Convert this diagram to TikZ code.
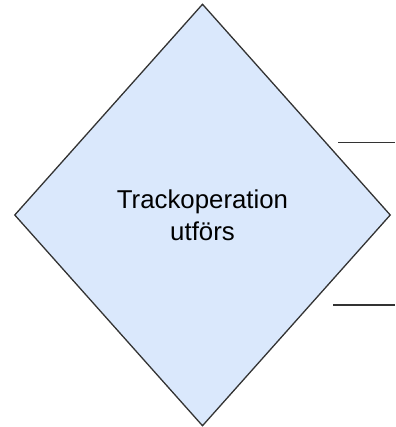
\documentclass[tikz,border=0pt]{standalone}
\usepackage{fontspec}
\setmainfont{Liberation Sans}
\usepackage{tikz}
\usetikzlibrary{shapes.geometric}
\usepackage{xcolor}
\definecolor{decfill}{HTML}{DAE8FC}
\definecolor{decline}{HTML}{333333}

\tikzset{
    decision/.style={diamond, draw=decline, fill=decfill, line width=1.3pt,
        inner sep=0pt, minimum width=376pt, minimum height=422pt,
        align=center, font=\fontsize{25.8}{32}\selectfont},
    stub/.style={decline, line width=1.3pt}
}

\begin{document}
\begin{tikzpicture}[x=1pt, y=-1pt]
    \useasboundingbox (0,0) rectangle (395,427);
    % Draw the decision diamond
    \node[decision] (op) at (202.5,215) {Trackoperation\\utförs};
    % Draw two loose outgoing lines
    \coordinate (yesA) at (338,142.5);
    \coordinate (yesB) at (395,142.5);
    \coordinate (noA) at (333,305);
    \coordinate (noB) at (395,305);
    \draw[stub] (yesA) -- (yesB);
    \draw[stub] (noA) -- (noB);
\end{tikzpicture}
\end{document}
